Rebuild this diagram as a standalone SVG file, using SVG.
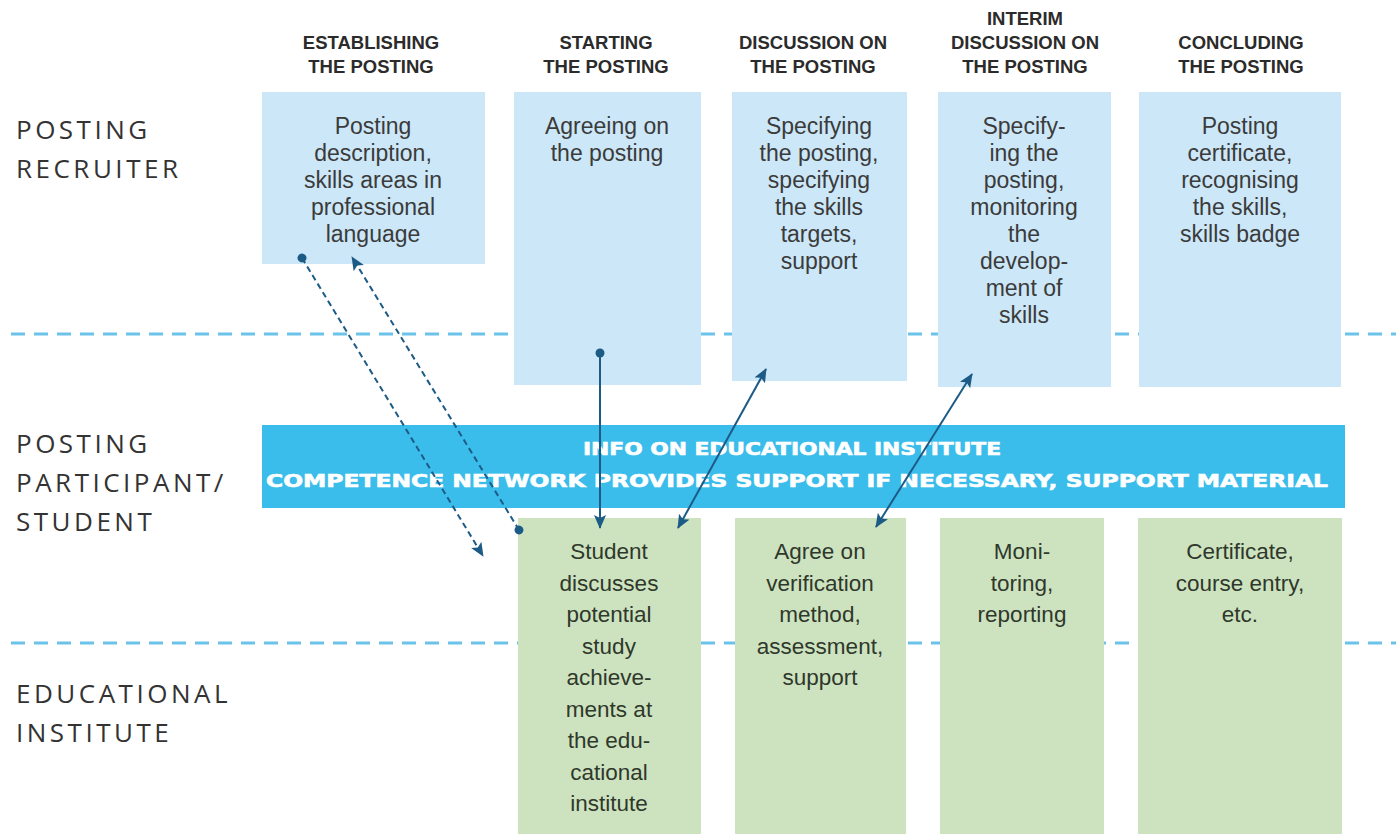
<svg xmlns="http://www.w3.org/2000/svg" width="1396" height="834" viewBox="0 0 1396 834">
<defs>
<marker id="ah" viewBox="0 0 14 12" refX="13" refY="6" markerWidth="14" markerHeight="12" markerUnits="userSpaceOnUse" orient="auto-start-reverse">
<path d="M0,0 L14,6 L0,12 L3,6 z" fill="#1d5b87"/>
</marker>
<marker id="dot" viewBox="0 0 10 10" refX="5" refY="5" markerWidth="10" markerHeight="10" markerUnits="userSpaceOnUse" orient="auto">
<circle cx="5" cy="5" r="4.5" fill="#1d5b87"/>
</marker>
</defs>
<style>
.hdr{font-family:"Liberation Sans",Arial,sans-serif;font-weight:bold;font-size:18.5px;fill:#2b2b2b;text-anchor:middle}
.lane{font-family:"Open Sans","DejaVu Sans",sans-serif;font-size:26px;fill:#333;letter-spacing:3.5px}
.top{fill:#cce7f8}
.grn{fill:#cde3c0}
.tt{font-family:"Liberation Sans",Arial,sans-serif;font-size:23px;fill:#3b3b3b;text-anchor:middle}
.gt{font-family:"Liberation Sans",Arial,sans-serif;font-size:22.5px;fill:#2f382b;text-anchor:middle}
.band{font-family:"DejaVu Sans",sans-serif;font-weight:bold;font-size:17px;fill:#fff;stroke:#fff;stroke-width:0.6}
.sep{stroke:#6cc3ea;stroke-width:3;stroke-dasharray:14 9;fill:none}
.conn{stroke:#1d5b87;stroke-width:2;fill:none}
.dash{stroke-dasharray:6 4}
</style>
<rect width="1396" height="834" fill="#ffffff"/>

<g id="separators">
<line class="sep" x1="11" y1="334" x2="1396" y2="334"/>
<line class="sep" x1="11" y1="643" x2="1396" y2="643"/>
</g>

<g id="lanes">
<text class="lane" x="16" y="139">POSTING</text>
<text class="lane" x="16" y="178">RECRUITER</text>
<text class="lane" x="16" y="453">POSTING</text>
<text class="lane" x="16" y="492">PARTICIPANT/</text>
<text class="lane" x="16" y="531">STUDENT</text>
<text class="lane" x="16" y="703">EDUCATIONAL</text>
<text class="lane" x="16" y="742">INSTITUTE</text>
</g>

<g id="headers">
<text class="hdr" x="371" y="49">ESTABLISHING</text>
<text class="hdr" x="371" y="73">THE POSTING</text>
<text class="hdr" x="606" y="49">STARTING</text>
<text class="hdr" x="606" y="73">THE POSTING</text>
<text class="hdr" x="813" y="49">DISCUSSION ON</text>
<text class="hdr" x="813" y="73">THE POSTING</text>
<text class="hdr" x="1025" y="25">INTERIM</text>
<text class="hdr" x="1025" y="49">DISCUSSION ON</text>
<text class="hdr" x="1025" y="73">THE POSTING</text>
<text class="hdr" x="1241" y="49">CONCLUDING</text>
<text class="hdr" x="1241" y="73">THE POSTING</text>
</g>

<g id="r1">
<rect class="top" x="262" y="92" width="223" height="172"/>
<text class="tt" x="373" y="134">Posting</text>
<text class="tt" x="373" y="161">description,</text>
<text class="tt" x="373" y="188">skills areas in</text>
<text class="tt" x="373" y="215">professional</text>
<text class="tt" x="373" y="242">language</text>
</g>
<g id="r2">
<rect class="top" x="514" y="92" width="187" height="293"/>
<text class="tt" x="607" y="134">Agreeing on</text>
<text class="tt" x="607" y="161">the posting</text>
</g>
<g id="r3">
<rect class="top" x="732" y="92" width="175" height="289"/>
<text class="tt" x="819" y="134">Specifying</text>
<text class="tt" x="819" y="161">the posting,</text>
<text class="tt" x="819" y="188">specifying</text>
<text class="tt" x="819" y="215">the skills</text>
<text class="tt" x="819" y="242">targets,</text>
<text class="tt" x="819" y="269">support</text>
</g>
<g id="r4">
<rect class="top" x="938" y="92" width="173" height="295"/>
<text class="tt" x="1024" y="134">Specify-</text>
<text class="tt" x="1024" y="161">ing the</text>
<text class="tt" x="1024" y="188">posting,</text>
<text class="tt" x="1024" y="215">monitoring</text>
<text class="tt" x="1024" y="242">the</text>
<text class="tt" x="1024" y="269">develop-</text>
<text class="tt" x="1024" y="296">ment of</text>
<text class="tt" x="1024" y="323">skills</text>
</g>
<g id="r5">
<rect class="top" x="1139" y="92" width="202" height="295"/>
<text class="tt" x="1240" y="134">Posting</text>
<text class="tt" x="1240" y="161">certificate,</text>
<text class="tt" x="1240" y="188">recognising</text>
<text class="tt" x="1240" y="215">the skills,</text>
<text class="tt" x="1240" y="242">skills badge</text>
</g>

<g id="band">
<rect x="262" y="425" width="1083" height="83" fill="#3bbdec"/>
<text class="band" x="583" y="455" textLength="418" lengthAdjust="spacingAndGlyphs">INFO ON EDUCATIONAL INSTITUTE</text>
<text class="band" x="266" y="487" textLength="1062" lengthAdjust="spacingAndGlyphs">COMPETENCE NETWORK PROVIDES SUPPORT IF NECESSARY, SUPPORT MATERIAL</text>
</g>

<g id="e1">
<rect class="grn" x="518" y="518" width="183" height="316"/>
<text class="gt" x="609" y="559">Student</text>
<text class="gt" x="609" y="590.5">discusses</text>
<text class="gt" x="609" y="622">potential</text>
<text class="gt" x="609" y="653.5">study</text>
<text class="gt" x="609" y="685">achieve-</text>
<text class="gt" x="609" y="716.5">ments at</text>
<text class="gt" x="609" y="748">the edu-</text>
<text class="gt" x="609" y="779.5">cational</text>
<text class="gt" x="609" y="811">institute</text>
</g>
<g id="e2">
<rect class="grn" x="735" y="518" width="171" height="316"/>
<text class="gt" x="820" y="559">Agree on</text>
<text class="gt" x="820" y="590.5">verification</text>
<text class="gt" x="820" y="622">method,</text>
<text class="gt" x="820" y="653.5">assessment,</text>
<text class="gt" x="820" y="685">support</text>
</g>
<g id="e3">
<rect class="grn" x="940" y="518" width="164" height="316"/>
<text class="gt" x="1022" y="559">Moni-</text>
<text class="gt" x="1022" y="590.5">toring,</text>
<text class="gt" x="1022" y="622">reporting</text>
</g>
<g id="e4">
<rect class="grn" x="1138" y="518" width="204" height="316"/>
<text class="gt" x="1240" y="559">Certificate,</text>
<text class="gt" x="1240" y="590.5">course entry,</text>
<text class="gt" x="1240" y="622">etc.</text>
</g>

<g id="connectors">
<line class="conn dash" x1="302" y1="258" x2="483" y2="556" marker-start="url(#dot)" marker-end="url(#ah)"/>
<line class="conn dash" x1="519" y1="530" x2="352" y2="257" marker-start="url(#dot)" marker-end="url(#ah)"/>
<line class="conn" x1="600" y1="353" x2="600" y2="528" marker-start="url(#dot)" marker-end="url(#ah)"/>
<line class="conn" x1="678" y1="528" x2="766" y2="369" marker-start="url(#ah)" marker-end="url(#ah)"/>
<line class="conn" x1="876" y1="527" x2="972" y2="374" marker-start="url(#ah)" marker-end="url(#ah)"/>
</g>
</svg>
